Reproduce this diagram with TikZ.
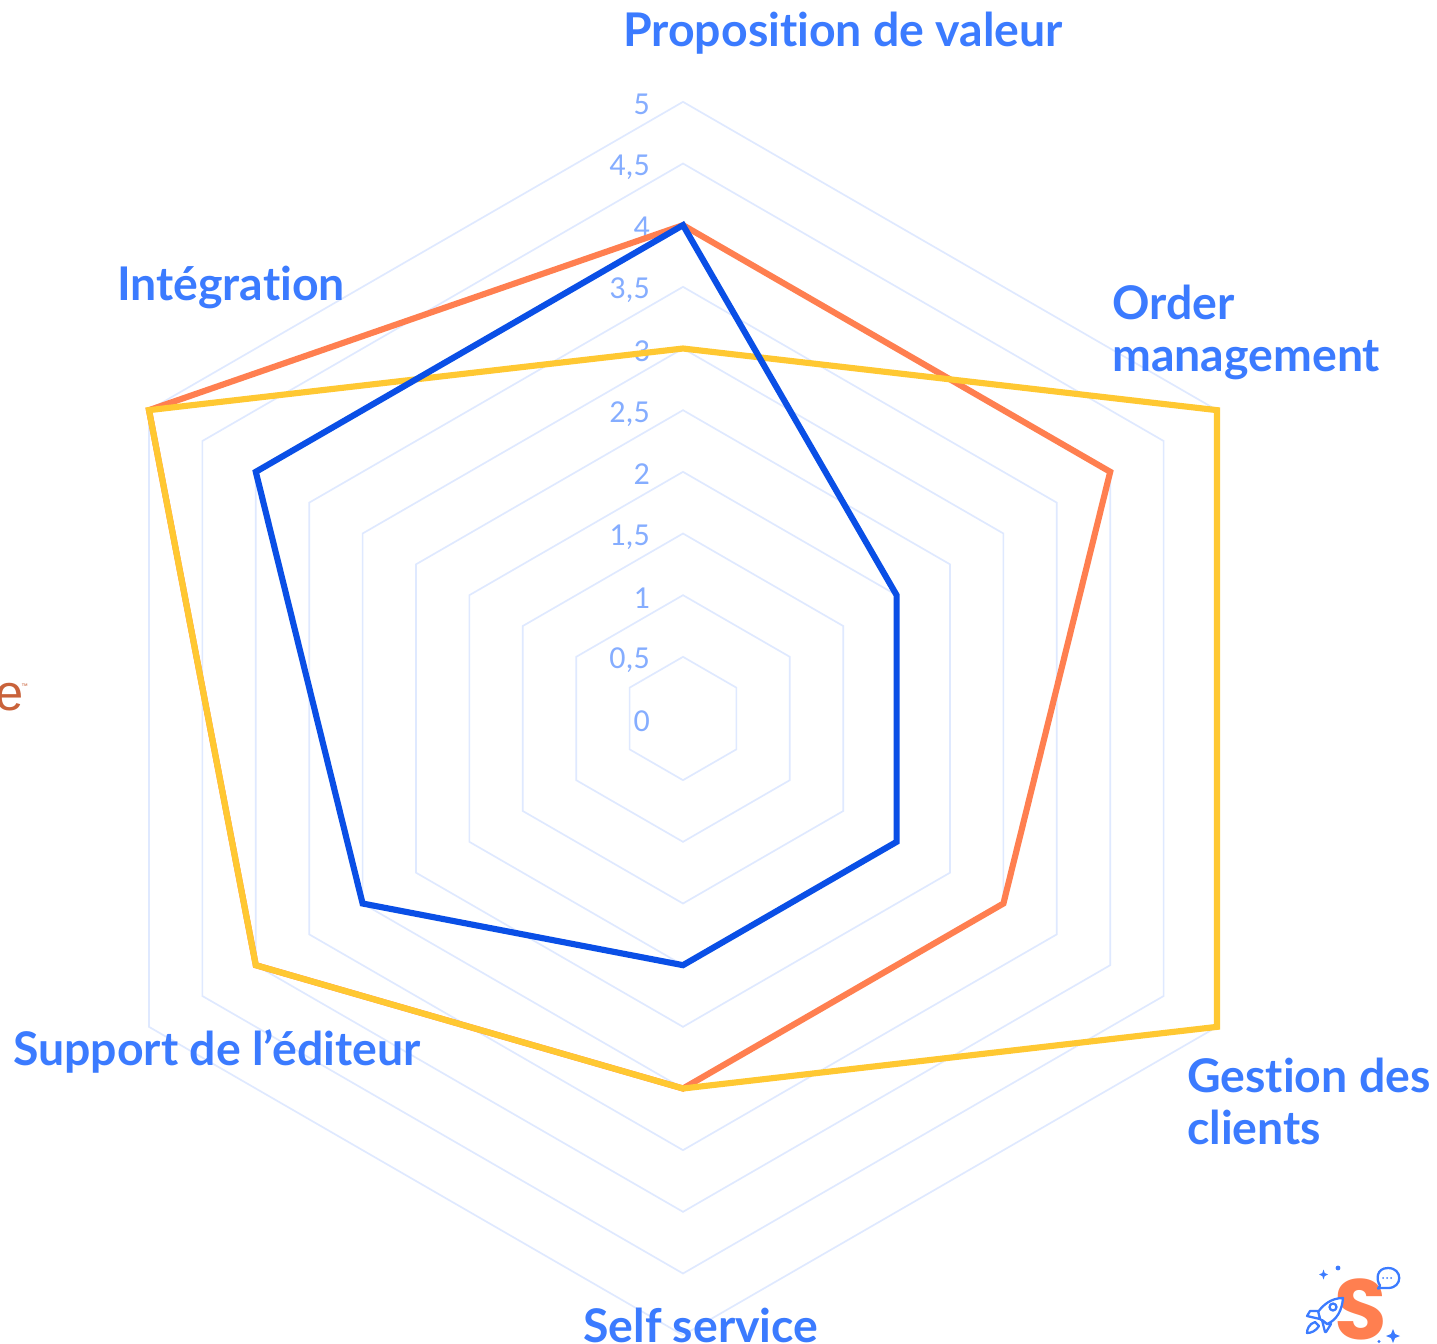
\documentclass[tikz,border=0pt]{standalone}
\usepackage{fontspec}
\setmainfont[Ligatures=NoCommon]{Lato}
\newfontfamily\tickfont{Carlito}
\newfontfamily\logofont{Liberation Sans}
\newfontfamily\brandfont{Poppins}
\definecolor{gridc}{HTML}{DFE9FF}
\definecolor{tickc}{HTML}{85ADFF}
\definecolor{labelc}{HTML}{3B7BFF}
\definecolor{yellowc}{HTML}{FFC832}
\definecolor{orangec}{HTML}{FF7F50}
\definecolor{bluec}{HTML}{0A4FE6}
\definecolor{logoe}{HTML}{C9623A}
\tikzset{
  x=0.75pt,y=-0.75pt,
  gridline/.style={draw=gridc,line width=1.25pt,line join=miter},
  series/.style={line width=4.6pt,line join=miter,miter limit=10},
  ticklab/.style={font=\tickfont\fontsize{24pt}{26pt}\selectfont,text=tickc,anchor=east,inner sep=0pt},
  axislab/.style={font=\fontsize{34.8pt}{38.8pt}\bfseries\selectfont,text=labelc,anchor=west,inner sep=0pt,align=left},
  logoline/.style={draw=labelc,line width=1.7pt,line join=round,line cap=round}
}
\newcommand{\radarpoly}[7]{%
  \draw[#1] (683,{718.5-123.33*#2}) -- ({683+106.8*#3},{718.5-61.67*#3}) -- ({683+106.8*#4},{718.5+61.67*#4}) -- (683,{718.5+123.33*#5}) -- ({683-106.8*#6},{718.5+61.67*#6}) -- ({683-106.8*#7},{718.5-61.67*#7}) -- cycle;}
\begin{document}
\begin{tikzpicture}
\useasboundingbox (0,0) rectangle (1437,1344);
\fill[white] (0,0) rectangle (1437,1344);
% grid
\foreach \v in {0.5,1,...,5}{\radarpoly{gridline}{\v}{\v}{\v}{\v}{\v}{\v}}
% ticks
\foreach \t/\yy in {5/104,{4,5}/167,4/227,{3,5}/290,3/351,{2,5}/414,2/474,{1,5}/537,1/598,{0,5}/660,0/721}
  \node[ticklab] (tick\yy) at (650,\yy) {\t};
% series
\radarpoly{series,draw=orangec}{4}{4}{3}{3}{4}{5}
\radarpoly{series,draw=yellowc}{3}{5}{5}{3}{4}{5}
\radarpoly{series,draw=bluec}{4}{2}{2}{2}{3}{4}
% labels
\node[axislab] (l1) at (623,33) {Proposition de valeur};
\node[axislab] (l2) at (1112,332.5) {Order\\management};
\node[axislab] (l3) at (1187,1101.5) {Gestion des\\clients};
\node[axislab] (l4) at (583,1325.5) {Self service};
\node[axislab] (l5) at (13,1051) {Support de l’éditeur};
\node[axislab] (l6) at (117,287) {Intégration};
% cut-off logo
\node[font=\logofont\fontsize{38pt}{38pt}\selectfont,text=logoe,anchor=east,inner sep=0pt] (e) at (23.5,697) {e};
\node[font=\logofont\fontsize{5pt}{5pt}\selectfont,text=logoe,anchor=west,inner sep=0pt] (tm) at (21,686) {™};
% logo S
\node[font=\brandfont\fontsize{64pt}{64pt}\bfseries\selectfont,text=orangec,inner sep=0pt] (s) at (1361,1309) {S};
% speech bubble
\draw[logoline,fill=white] (1378,1288.5) -- (1380,1285.5) .. controls (1376,1280) and (1376,1268) .. (1388,1268) .. controls (1403,1268) and (1403,1288) .. (1388,1288) .. controls (1385,1288) and (1383,1287.5) .. (1378,1288.5) -- cycle;
\foreach \xx in {1383,1387,1391}\fill[labelc] (\xx,1278) circle[radius=1];
% rocket
\draw[logoline,fill=white] (1343,1298) .. controls (1331,1298) and (1323,1305) .. (1318,1312) -- (1320,1319) -- (1327,1324) .. controls (1337,1320) and (1342,1310) .. (1343,1298) -- cycle;
\draw[logoline,fill=white] (1318,1311) -- (1310,1311) -- (1307,1316) -- (1320,1319) -- cycle;
\draw[logoline,fill=white] (1327,1324) -- (1331,1324) -- (1326,1332) -- (1325,1332) -- (1322,1320) -- cycle;
\draw[logoline,fill=white] (1315,1322) .. controls (1309,1324) and (1307,1329) .. (1307,1333) .. controls (1311,1333) and (1316,1331) .. (1319,1326) -- cycle;
\draw[logoline] (1333,1307) circle[radius=3.5];
% sparkles
\fill[labelc] (1338,1268) circle[radius=2.4];
\fill[labelc] (1323.5,1269.5) -- (1324.7,1273) -- (1328,1274.5) -- (1324.7,1276) -- (1323.5,1279.5) -- (1322.3,1276) -- (1319,1274.5) -- (1322.3,1273) -- cycle;
\fill[labelc] (1393,1329) -- (1395,1334) -- (1400,1336) -- (1395,1338) -- (1393,1343) -- (1391,1338) -- (1386,1336) -- (1391,1334) -- cycle;
\fill[labelc] (1379,1341.5) circle[radius=1.6];
\end{tikzpicture}
\end{document}
